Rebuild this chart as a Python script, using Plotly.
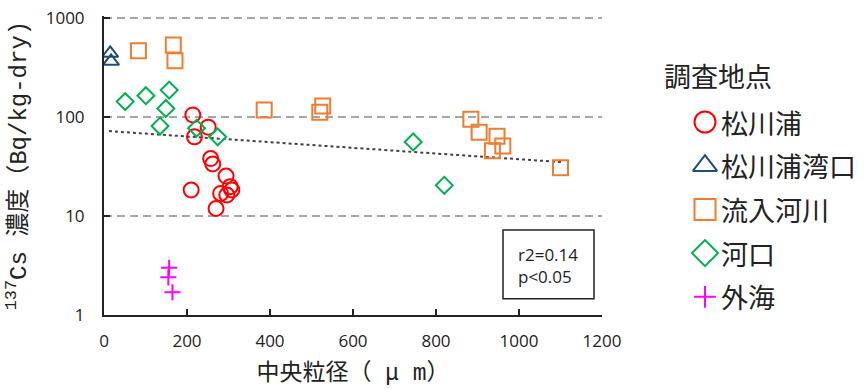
import plotly.graph_objects as go

# 137Cs concentration vs. median grain size by survey site
matsukawaura_x = [214, 251, 218, 257, 262, 294, 210, 304, 281, 296, 308, 270]
matsukawaura_y = [105, 79, 63, 38, 33.5, 25.3, 18.3, 19.8, 16.9, 16.3, 18.3, 11.9]

bay_mouth_x = [15, 17]
bay_mouth_y = [440, 365]

river_x = [83, 167, 171, 386, 520, 527, 884, 904, 947, 961, 936, 1100]
river_y = [468, 534, 370, 118, 112, 129, 95, 70, 64, 51, 45.7, 30.8]

estuary_x = [51, 101, 157, 149, 135, 223, 274, 745, 820]
estuary_y = [143, 164, 187, 122, 81, 77, 63, 56, 20.4]

offshore_x = [157, 155, 165]
offshore_y = [3.0, 2.4, 1.7]

# exponential trend line (straight on the log axis)
trend_x = [12, 1103]
trend_y = [72, 35]

site_names = ["松川浦", "松川浦湾口", "流入河川", "河口", "外海"]
site_colors = ["#FF0000", "#1F4E79", "#ED7D31", "#00B050", "#FF00FF"]
site_symbols = ["circle-open", "triangle-up-open", "square-open", "diamond-open", "cross-thin-open"]
plot_sizes = [15, 14, 15, 13, 11.5]
key_sizes = [21, 21, 21, 20, 15.5]

x_ticks = [0, 200, 400, 600, 800, 1000, 1200]
y_ticks = [1, 10, 100, 1000]
y_tick_text = ["1", "10", "100", "1000"]

W, H = 864, 390
series = [
    (matsukawaura_x, matsukawaura_y),
    (bay_mouth_x, bay_mouth_y),
    (river_x, river_y),
    (estuary_x, estuary_y),
    (offshore_x, offshore_y),
]

fig = go.Figure()

fig.add_trace(go.Scatter(
    x=trend_x, y=trend_y, mode="lines",
    line=dict(color="#404040", width=2, dash="dot"),
    showlegend=False, hoverinfo="skip",
))

for (xs, ys), name, col, sym, sz in zip(series, site_names, site_colors, site_symbols, plot_sizes):
    fig.add_trace(go.Scatter(
        x=xs, y=ys, mode="markers", name=name, showlegend=False,
        marker=dict(symbol=sym, size=sz, color=col, line=dict(color=col, width=2)),
    ))

# site key drawn on a full-figure overlay in pixel units
KEY_X, KEY_Y0, KEY_DY = 705, 122, 43.7
for i, (name, col, sym, sz) in enumerate(zip(site_names, site_colors, site_symbols, key_sizes)):
    fig.add_trace(go.Scatter(
        x=[KEY_X], y=[KEY_Y0 + i * KEY_DY], xaxis="x2", yaxis="y2",
        mode="markers", showlegend=False, hoverinfo="skip",
        marker=dict(symbol=sym, size=sz, color=col, line=dict(color=col, width=2)),
    ))

cjk = "Noto Sans CJK JP"
title_font = dict(family="Liberation Mono, Noto Sans CJK JP", size=23, color="#222222")
ytitle_font = dict(family="Liberation Mono, Noto Sans CJK JP", size=24, color="#222222")
tick_font = dict(family="Open Sans", size=17, color="#222222")

annotations = [
    dict(x=662, y=75, xref="x2", yref="y2", text="調査地点", showarrow=False,
         xanchor="left", yanchor="middle", font=dict(family=cjk, size=27, color="#222222")),
    dict(x=516 / W, y=1 - 265 / H, xref="paper", yref="paper",
         text="r2=0.14<br>p&lt;0.05", showarrow=False, align="left",
         xanchor="left", yanchor="middle", font=dict(family="Open Sans", size=17, color="#222222")),
]
for i, name in enumerate(site_names):
    annotations.append(dict(
        x=719, y=KEY_Y0 + i * KEY_DY, xref="x2", yref="y2", text=name, showarrow=False,
        xanchor="left", yanchor="middle", font=dict(family=cjk, size=27, color="#222222"),
    ))

# a sliver of headroom above 1000 so its grid line is kept
Y_TOP = 3.02
fig.update_layout(
    width=W, height=H,
    margin=dict(l=0, r=0, t=0, b=0),
    paper_bgcolor="white", plot_bgcolor="rgba(0,0,0,0)",
    xaxis=dict(
        domain=[104 / W, 602 / W], range=[0, 1200], tickvals=x_ticks,
        ticks="inside", ticklen=6, tickwidth=2, tickcolor="#222222",
        showline=True, linecolor="#222222", linewidth=2,
        showgrid=False, zeroline=False, tickfont=tick_font, ticklabelstandoff=10,
        title=dict(text="中央粒径（ μ m）", font=title_font, standoff=12),
        automargin=False,
    ),
    yaxis=dict(
        domain=[1 - 315 / H, 1 - (18 - 99 * (Y_TOP - 3)) / H], type="log", range=[0, Y_TOP],
        tickvals=y_ticks, ticktext=y_tick_text,
        ticks="inside", ticklen=6, tickwidth=2, tickcolor="#222222",
        showline=True, linecolor="#222222", linewidth=2,
        showgrid=True, gridcolor="#A6A6A6", gridwidth=2, griddash="8px,5px",
        zeroline=False, tickfont=tick_font, ticklabelstandoff=14,
        title=dict(text="<sup>137</sup>Cs 濃度（Bq/kg-dry)", font=ytitle_font, standoff=12),
        automargin=False,
    ),
    xaxis2=dict(domain=[0, 1], range=[0, W], visible=False, fixedrange=True, anchor="y2"),
    yaxis2=dict(domain=[0, 1], range=[H, 0], visible=False, fixedrange=True, anchor="x2"),
    shapes=[dict(type="rect", xref="paper", yref="paper",
                 x0=503 / W, x1=594 / W, y0=1 - 298.7 / H, y1=1 - 230 / H,
                 line=dict(color="#222222", width=1.5))],
    annotations=annotations,
)

fig.write_html("out.html")
